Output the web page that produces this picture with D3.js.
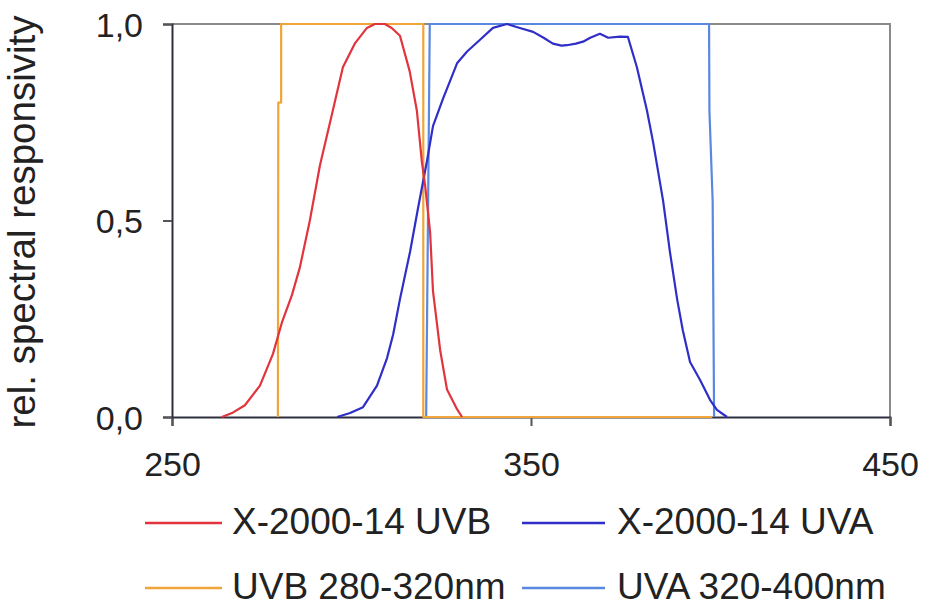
<!DOCTYPE html>
<html>
<head>
<meta charset="utf-8">
<script src="https://cdn.jsdelivr.net/npm/d3@7"></script>
<style>
  html, body { margin: 0; padding: 0; background: #fff; }
  svg { display: block; font-family: "Liberation Sans", Arial, sans-serif; }
</style>
</head>
<body>
<svg id="chart" width="934" height="606"></svg>
<script>
// ---- data ----
const seriesNames = ["X-2000-14 UVB", "X-2000-14 UVA", "UVB 280-320nm", "UVA 320-400nm"];
const seriesColors = ["#e2343c", "#2f2fc8", "#f0a53a", "#5a88e0"];

const uvbSensorNm  = [263.9,266.7,270.3,274.5,278.1,280.6,283.4,285.6,288.4,291.2,294.8,297.6,300.9,304.3,306.5,309.3,311.2,313.5,316.2,318.2,319.6,320.5,321.9,322.7,324.7,326.6,329.4,330.8];
const uvbSensorVal = [0,0.01,0.03,0.08,0.16,0.24,0.31,0.38,0.50,0.64,0.78,0.89,0.95,0.99,1.0,1.0,0.99,0.97,0.88,0.78,0.65,0.59,0.47,0.32,0.17,0.07,0.02,0];

const uvaSensorNm  = [296.0,299.6,303.2,307.1,309.9,311.6,313.5,316.3,318.5,321.0,322.7,325.5,329.4,332.2,335.8,339.4,343.3,346.9,350.6,353.5,356.1,358.5,360.0,362.5,364.5,366.5,369.2,371.5,374.8,377.0,379.5,382.3,384.0,386.8,388.7,390.7,392.3,394.3,397.1,399.9,401.8,404.6];
const uvaSensorVal = [0,0.01,0.025,0.08,0.15,0.21,0.30,0.42,0.53,0.65,0.74,0.81,0.90,0.93,0.96,0.99,1.0,0.99,0.98,0.965,0.95,0.945,0.946,0.95,0.955,0.965,0.975,0.965,0.968,0.967,0.89,0.78,0.70,0.55,0.42,0.30,0.22,0.14,0.094,0.043,0.018,0];

const uvbBandNm  = [279.5,279.6,280.4,280.4,320.0,320.0,400.5];
const uvbBandVal = [0,0.8,0.8,1,1,0,0];

const uvaBandNm  = [320.8,321.8,399.6,399.7,400.6,401.0];
const uvaBandVal = [0,1,1,0.78,0.55,0];

const xTicks = [250, 350, 450];
const yTicks = [0, 0.5, 1.0];
const yTitle = "rel. spectral responsivity";

// ---- layout ----
const svg = d3.select("#chart");
const mLeft = 172, mRight = 890, mTop = 24, mBottom = 417;
const x = d3.scaleLinear().domain([250, 450]).range([mLeft, mRight]);
const y = d3.scaleLinear().domain([0, 1]).range([mBottom, mTop]);
const fmt = d => d3.format(".1f")(d).replace(".", ",");

// frame (top/right)
svg.append("path")
  .attr("d", `M${mLeft},${mTop}H${mRight}V${mBottom}`)
  .attr("fill", "none").attr("stroke", "#8a8a8a").attr("stroke-width", 2);

// axes
const xAxis = svg.append("g").attr("transform", `translate(0,${mBottom})`)
  .call(d3.axisBottom(x).tickValues(xTicks).tickSize(9).tickPadding(26).tickFormat(d3.format("d")));
const yAxis = svg.append("g").attr("transform", `translate(${mLeft},0)`)
  .call(d3.axisLeft(y).tickValues(yTicks).tickSize(9).tickPadding(20).tickFormat(fmt));
[xAxis, yAxis].forEach(g => {
  g.select(".domain").attr("stroke", "#2e3040").attr("stroke-width", 2);
  g.selectAll(".tick line").attr("stroke", "#555").attr("stroke-width", 2);
  g.selectAll(".tick text").attr("fill", "#222").style("font-size", "34px")
    .style("font-family", '"Liberation Sans", Arial, sans-serif');
});
yAxis.selectAll(".tick text").attr("dy", "0.36em");

// y title
svg.append("text")
  .attr("transform", `translate(35,222) rotate(-90)`)
  .attr("text-anchor", "middle")
  .attr("fill", "#222")
  .style("font-size", "38.5px")
  .text(yTitle);

// lines
const line = d3.line().x(d => x(d[0])).y(d => y(d[1]));
const series = [
  d3.zip(uvbSensorNm, uvbSensorVal),
  d3.zip(uvaSensorNm, uvaSensorVal),
  d3.zip(uvbBandNm, uvbBandVal),
  d3.zip(uvaBandNm, uvaBandVal)
];
const drawOrder = [3, 2, 1, 0];
drawOrder.forEach(i => {
  svg.append("path").datum(series[i])
    .attr("d", line)
    .attr("fill", "none")
    .attr("stroke", seriesColors[i])
    .attr("stroke-width", 2.2)
    .attr("stroke-linejoin", "round");
});

// legend
const legendRows = [[0, 1], [2, 3]];
const colX = [[145, 222, 232], [522, 605, 617]];
const rowY = [534, 599];
legendRows.forEach((row, r) => {
  row.forEach((si, c) => {
    const [x1, x2, tx] = colX[c];
    svg.append("line")
      .attr("x1", x1).attr("x2", x2)
      .attr("y1", rowY[r] - 11).attr("y2", rowY[r] - 11)
      .attr("stroke", seriesColors[si]).attr("stroke-width", 2.5);
    svg.append("text")
      .attr("x", tx).attr("y", rowY[r])
      .attr("fill", "#222")
      .style("font-size", "37px")
      .text(seriesNames[si]);
  });
});
</script>
</body>
</html>
